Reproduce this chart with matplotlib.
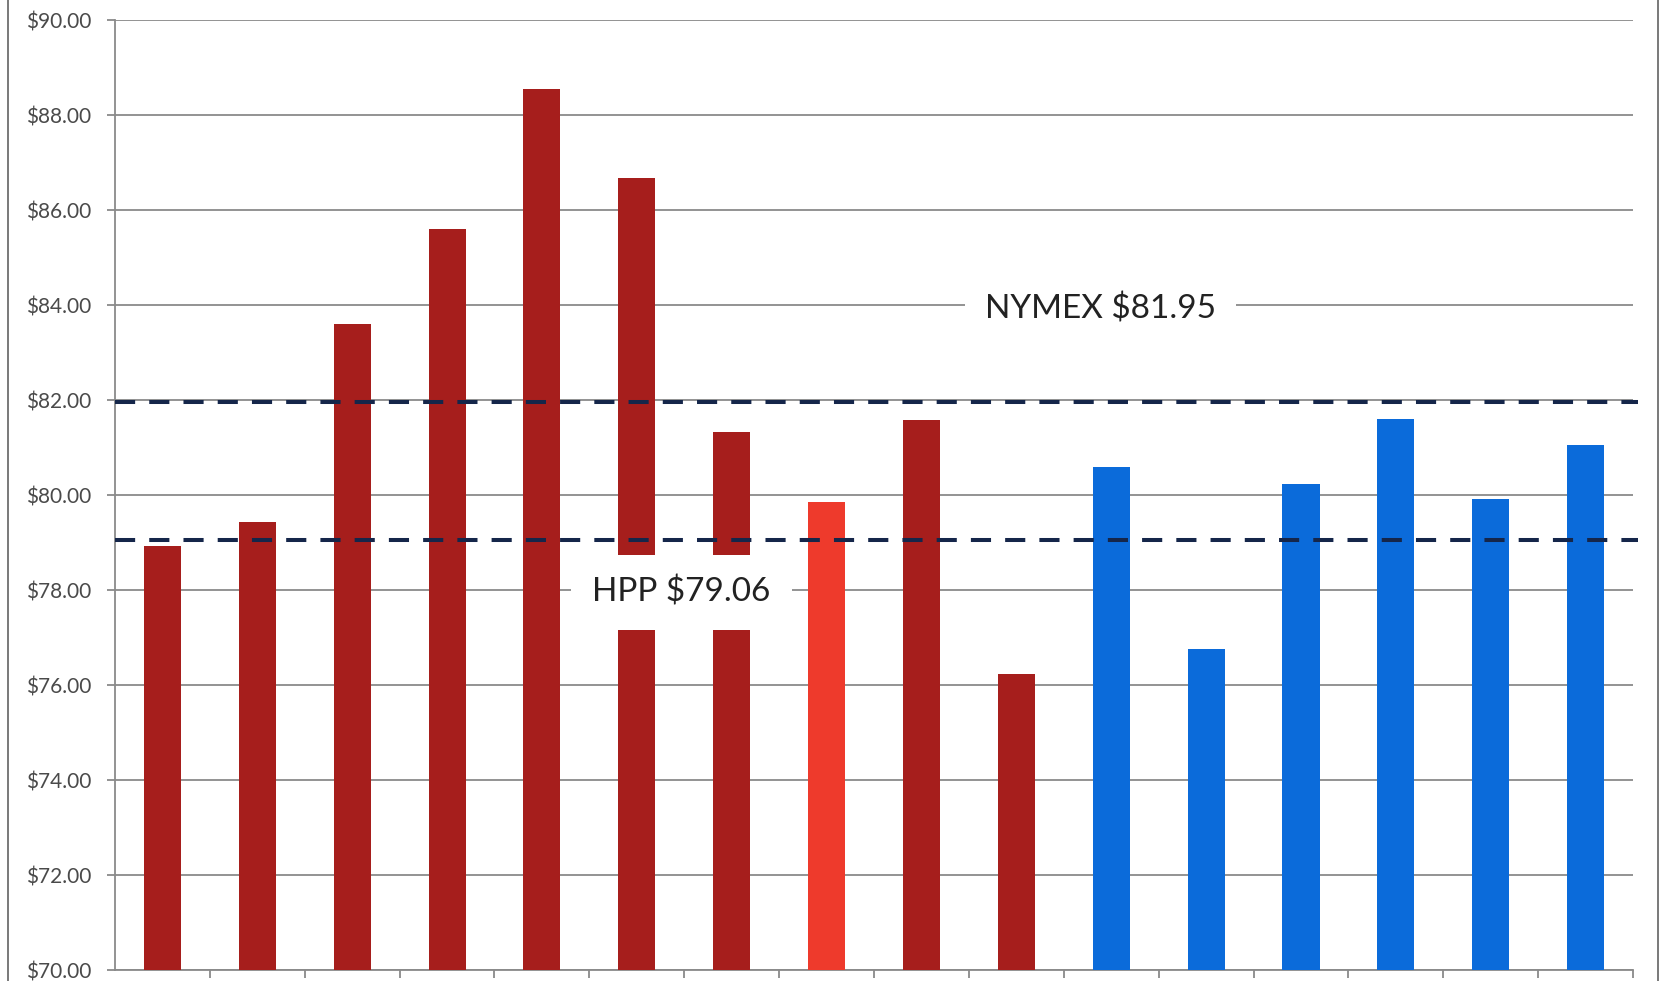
import numpy as np
import matplotlib.pyplot as plt
from matplotlib.ticker import FuncFormatter, FixedLocator

# monthly prices, left to right
prices = [78.92, 79.43, 83.60, 85.59, 88.55, 86.68, 81.33, 79.86, 81.57, 76.24,
          80.59, 76.76, 80.23, 81.59, 79.92, 81.06]
groups = ["past"] * 7 + ["current"] + ["past"] * 2 + ["future"] * 6
group_colors = {"past": "#A61E1C", "current": "#EE3A2C", "future": "#0B6BDA"}

nymex_price = 81.95
hpp_price = 79.06
ref_labels = [("NYMEX", nymex_price), ("HPP", hpp_price)]

y_min, y_max, y_step = 70, 90, 2

plt.rcParams['font.family'] = ['Lato', 'DejaVu Sans']

fig = plt.figure(figsize=(16.61, 9.81), dpi=100)
ax = fig.add_axes([0.0692, 0.0112, 0.9140, 0.9684])

x = np.arange(len(prices))
colors = [group_colors[g] for g in groups]
ax.bar(x, prices, width=0.39, color=colors, zorder=3)

ax.set_xlim(-0.5, len(prices) - 0.5)
ax.set_ylim(y_min, y_max)
ax.set_yticks(np.arange(y_min, y_max + 0.1, y_step))
ax.yaxis.set_major_formatter(FuncFormatter(lambda v, _: f"${v:.2f}"))
ax.xaxis.set_major_locator(FixedLocator(np.arange(len(prices)) + 0.5))
ax.set_xticklabels([])

grid_color = "#8A8A8A"
ax.grid(axis='y', color=grid_color, linewidth=1.3, zorder=0)
ax.set_axisbelow(True)
for side in ("top", "right"):
    ax.spines[side].set_visible(False)
for side in ("left", "bottom"):
    ax.spines[side].set_color(grid_color)
    ax.spines[side].set_linewidth(1.3)
ax.tick_params(axis='y', length=6, width=1.3, color=grid_color, pad=11,
               labelsize=15, labelcolor="#4A4A4A")
ax.tick_params(axis='x', length=6, width=1.3, color=grid_color, direction='out')

# reference price lines
for name, val in ref_labels:
    ax.plot([-0.5, len(prices) - 0.45], [val, val], color="#15264A",
            linewidth=2.9, dashes=(5, 3.5), zorder=4, clip_on=False)

ax.text(9.89, 83.92, f"NYMEX ${nymex_price:.2f}", ha='center', va='center',
        fontsize=24, color="#222222", zorder=5,
        bbox=dict(boxstyle='square,pad=0.6', facecolor='white', edgecolor='none'))
ax.text(5.47, 77.95, f"HPP ${hpp_price:.2f}", ha='center', va='center',
        fontsize=24, color="#222222", zorder=5,
        bbox=dict(boxstyle='square,pad=0.65', facecolor='white', edgecolor='none'))

# outer chart border
for xb in (8 / 1661, 1658 / 1661):
    fig.add_artist(plt.Line2D([xb, xb], [0, 1], color="#6E6E6E", linewidth=1.3,
                              transform=fig.transFigure))

fig.savefig("out.png", dpi=100, facecolor='white')
